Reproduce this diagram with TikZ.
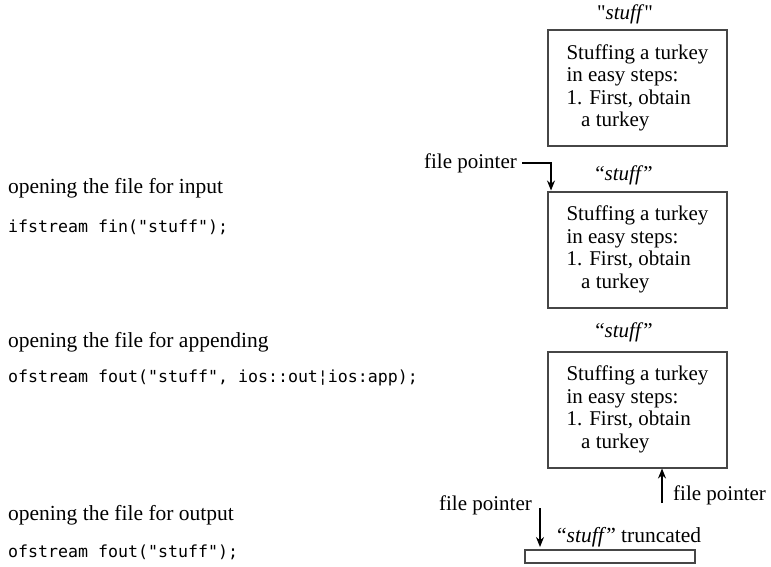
\documentclass[tikz,border=0pt]{standalone}
\usepackage{fontspec}
\setmainfont{Liberation Serif}[Ligatures=TeXOff]
\setmonofont{DejaVu Sans Mono}
\usetikzlibrary{positioning, arrows.meta}
\definecolor{boxgrey}{RGB}{70,70,70}
\newcommand{\turkeytext}{Stuffing a turkey\\in easy steps:\\1. First, obtain\\\hspace*{0.7em}a turkey}

\begin{document}
\begin{tikzpicture}[x=1pt, y=-1pt, font=\fontsize{21}{22.5}\selectfont,
  filebox/.style={draw=boxgrey, line width=2pt, minimum width=179pt, minimum height=116pt, align=left, inner sep=0pt},
  code/.style={anchor=west, inner sep=0pt, font=\ttfamily\fontsize{16.6}{18}\selectfont},
  caption/.style={anchor=west, inner sep=0pt, font=\fontsize{21.5}{23}\selectfont},
  ptr/.style={-{Stealth[length=10pt,width=8pt]}, line width=1.2pt}]
\useasboundingbox (0,0) rectangle (771,566);

% Left column
\node[caption] (capin)  at (8,188) {opening the file for input};
\node[code]    (codein) at (8,227) {ifstream fin("stuff");};
\node[caption] (capapp)  at (8,342) {opening the file for appending};
\node[code]    (codeapp) at (8,378) {ofstream fout("stuff", ios::out¦ios:app);};
\node[caption] (capout)  at (8,515) {opening the file for output};
\node[code]    (codeout) at (8,552) {ofstream fout("stuff");};

% Files
\node[inner sep=0pt] (name1) at (625,14) {"\textit{stuff}"};
\node[filebox] (box1) at (637.5,88) {\turkeytext};

\node[inner sep=0pt] (name2) at (624,175) {“\textit{stuff}”};
\node[filebox] (box2) at (637.5,249.5) {\turkeytext};

\node[inner sep=0pt] (name3) at (624,332) {“\textit{stuff}”};
\node[filebox] (box3) at (637.5,409.5) {\turkeytext};

\node[draw=boxgrey, line width=2pt, minimum width=170pt, minimum height=13pt, inner sep=0pt] (trunc) at (610,556.5) {};
\node[caption] (name4) at (557,537) {“\textit{stuff}” truncated};

% File pointers
\node[inner sep=0pt, anchor=east] (fp1) at (517,163) {file pointer};
\draw[ptr] ([xshift=5pt]fp1.east) -| ([xshift=4pt]box2.north west);

\node[inner sep=0pt, anchor=west] (fp2) at (673,495) {file pointer};
\coordinate (p2) at (662,503);
\draw[ptr] (p2) -- (p2 |- box3.south);

\node[inner sep=0pt, anchor=east] (fp3) at (532,505) {file pointer};
\coordinate (p3) at (540,508);
\draw[ptr, shorten >=2pt] (p3) -- (p3 |- trunc.north);
\end{tikzpicture}
\end{document}
